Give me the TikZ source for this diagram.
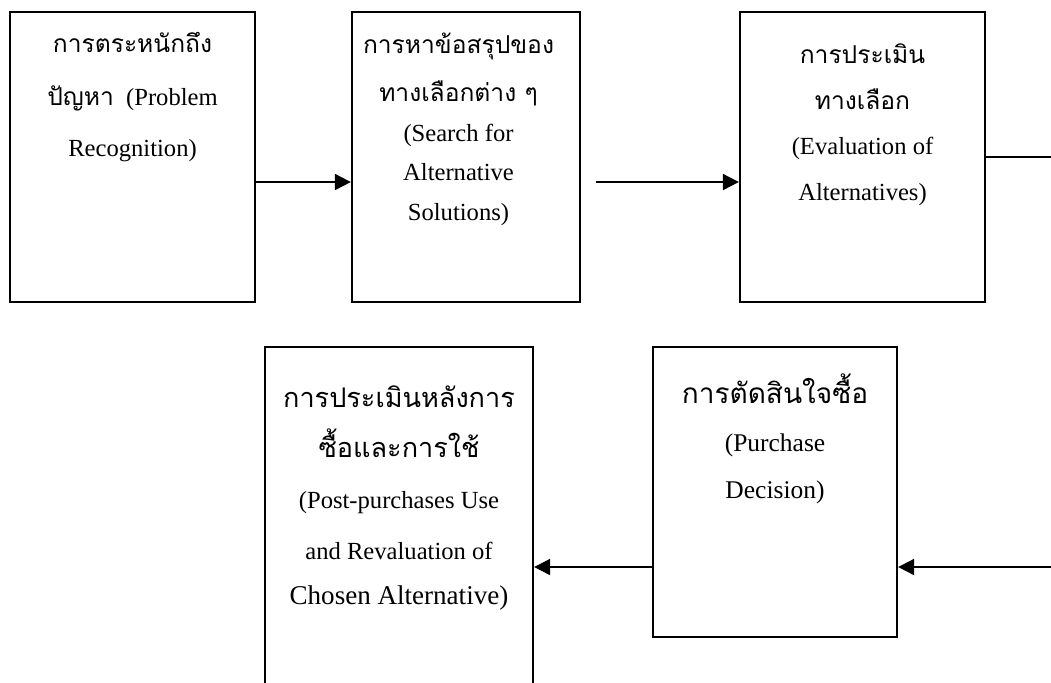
\documentclass[tikz,border=0pt]{standalone}
\usepackage{fontspec}
\setmainfont{Liberation Serif}
\newfontfamily\thaifont[Script=Thai]{Loma}
\newfontfamily\thaibig[Script=Thai, Scale=1.1]{Loma}
\newcommand{\thtext}[1]{{\thaifont #1}}
\newcommand{\thbig}[1]{{\thaibig #1}}
\usepackage{tikz}
\usetikzlibrary{arrows.meta, positioning}
\tikzset{
  stage/.style     = {rectangle, draw=black, line width=1.3pt,
                      minimum width=4.9cm, minimum height=5.8cm, inner sep=0pt},
  stagetext/.style = {align=center, inner sep=0pt,
                      font=\fontsize{14}{27}\selectfont,
                      execute at begin node=\rule{0pt}{16pt}},
  arrow/.style     = {-{Triangle[length=3.2mm, width=3.2mm]}, line width=1.1pt},
  link/.style      = {line width=1.1pt},
}

\begin{document}
\begin{tikzpicture}

  \useasboundingbox (0,0) rectangle (21.02,-13.64);
  \clip (0,0) rectangle (21.02,-13.64);

  % ---- upper row ----
  \node[stage] (prob) at (2.65,-3.14) {};
  \node[stage, minimum width=4.56cm] (search) at (9.32,-3.14) {};
  \node[stage] (eval) at (17.25,-3.14) {};

  \node[stagetext, below=0.42cm of prob.north] (probtxt)
        {\thtext{การตระหนักถึง}\\[3pt]
         \thtext{ปัญหา}\enspace(Problem\\[2pt]
         Recognition)};
  \node[stagetext, below=0.44cm of search.north, xshift=-0.15cm] (searchtxt)
        {\thtext{การหาข้อสรุปของ}\\
         \thtext{ทางเลือกต่าง ๆ}\\[-4pt]
         (Search for\\[-5pt]
         Alternative\\[-4pt]
         Solutions)};
  \node[stagetext, below=0.65cm of eval.north] (evaltxt)
        {\thtext{การประเมิน}\\[-1pt]
         \thtext{ทางเลือก}\\[-1pt]
         (Evaluation of\\[-1pt]
         Alternatives)};

  % ---- lower row ----
  \node[stage, minimum width=4.88cm] (purch) at (15.5,-9.84) {};
  \node[stage, minimum width=5.36cm, minimum height=7cm] (post) at (7.98,-10.44) {};

  \node[stagetext, font=\fontsize{14.5}{27}\selectfont,
        below=0.56cm of purch.north] (purchtxt)
        {\thbig{การตัดสินใจซื้อ}\\
         (Purchase\\
         Decision)};
  \node[stagetext, below=0.8cm of post.north] (posttxt)
        {\thbig{การประเมินหลังการ}\\[1pt]
         \thbig{ซื้อและการใช้}\\[2pt]
         (Post-purchases Use\\[2pt]
         and Revaluation of\\[-1pt]
         {\fontsize{15.4}{27}\selectfont Chosen Alternative)}};

  % free ends at the right margin
  \coordinate (outA) at (21.4,-3.14);
  \coordinate (inB)  at (21.4,-11.34);

  % arrows
  \draw[arrow] ([yshift=-0.5cm]prob.east) -- ([yshift=-0.5cm]search.west);
  \draw[arrow] ([xshift=0.3cm, yshift=-0.5cm]search.east) -- ([yshift=-0.5cm]eval.west);
  \draw[link]  (eval.east) -- (outA);
  \draw[arrow] (inB) -- (purch.east |- inB);
  \draw[arrow] (purch.west |- inB) -- (post.east |- inB);

\end{tikzpicture}
\end{document}
